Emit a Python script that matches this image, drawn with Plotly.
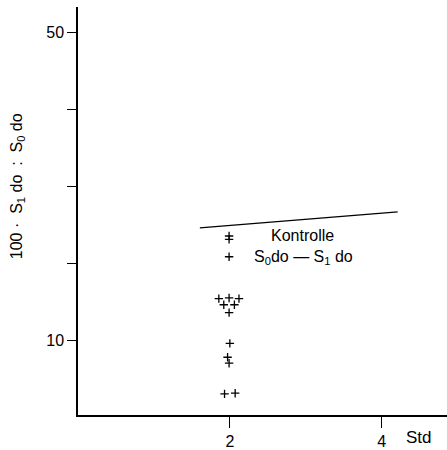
import plotly.graph_objects as go

# data
pts_x = [1.99, 1.99, 1.99, 1.855, 1.99, 2.12, 1.92, 2.06, 1.99, 2.0, 1.97, 1.99, 1.93, 2.07]
pts_y = [23.6, 23.16, 20.9, 15.47, 15.55, 15.47, 14.67, 14.67, 13.64, 9.65, 7.85, 7.08, 3.1, 3.18]
line_x = [1.605, 4.21]
line_y = [24.66, 26.72]
y_tickvals = [10, 20, 30, 40, 50]
y_ticktext = ["10", "", "", "", "50"]
x_tickvals = [2, 4]
x_ticktext = ["2", "4"]

FONT = "Liberation Sans"

fig = go.Figure()
fig.add_trace(go.Scatter(x=line_x, y=line_y, mode="lines",
                         line=dict(color="black", width=1.3), showlegend=False))
fig.add_trace(go.Scatter(x=pts_x, y=pts_y, mode="markers",
                         marker=dict(symbol="cross-thin", size=6,
                                     line=dict(color="black", width=1.3)),
                         showlegend=False))

fig.update_layout(
    width=447, height=450,
    margin=dict(l=78, r=0, t=7, b=31),
    paper_bgcolor="white", plot_bgcolor="white",
    font=dict(family=FONT, color="black", size=16),
    xaxis=dict(range=[0, 4.86], showgrid=False, zeroline=False,
               showline=True, linecolor="black", linewidth=1.5,
               ticks="outside", ticklen=11, tickwidth=1.3, tickcolor="black",
               tickvals=x_tickvals, ticktext=x_ticktext,
               tickfont=dict(size=16, family=FONT)),
    yaxis=dict(range=[0.35, 53.34], showgrid=False, zeroline=False,
               showline=True, linecolor="black", linewidth=1.5,
               ticks="outside", ticklen=9, tickwidth=1.3, tickcolor="black",
               tickvals=y_tickvals, ticktext=y_ticktext,
               tickfont=dict(size=16, family=FONT)),
    annotations=[
        dict(text="Kontrolle", x=2.96, y=23.6, xref="x", yref="y",
             showarrow=False, font=dict(size=16, family=FONT)),
        dict(text="S<sub>0</sub>do \u2014 S<sub>1</sub> do", x=2.97, y=20.75,
             xref="x", yref="y", showarrow=False, font=dict(size=16, family=FONT)),
        dict(text="Std", x=4.49, y=-0.056, xref="x", yref="paper",
             showarrow=False, yanchor="middle", font=dict(size=17, family=FONT)),
        dict(text="100 \u00b7  S<sub>1</sub> do  :  S<sub>0</sub> do", x=-0.165, y=0.561,
             xref="paper", yref="paper", textangle=-90, showarrow=False,
             xanchor="center", yanchor="middle", font=dict(size=16, family=FONT)),
    ],
)

fig.write_html("out.html")
